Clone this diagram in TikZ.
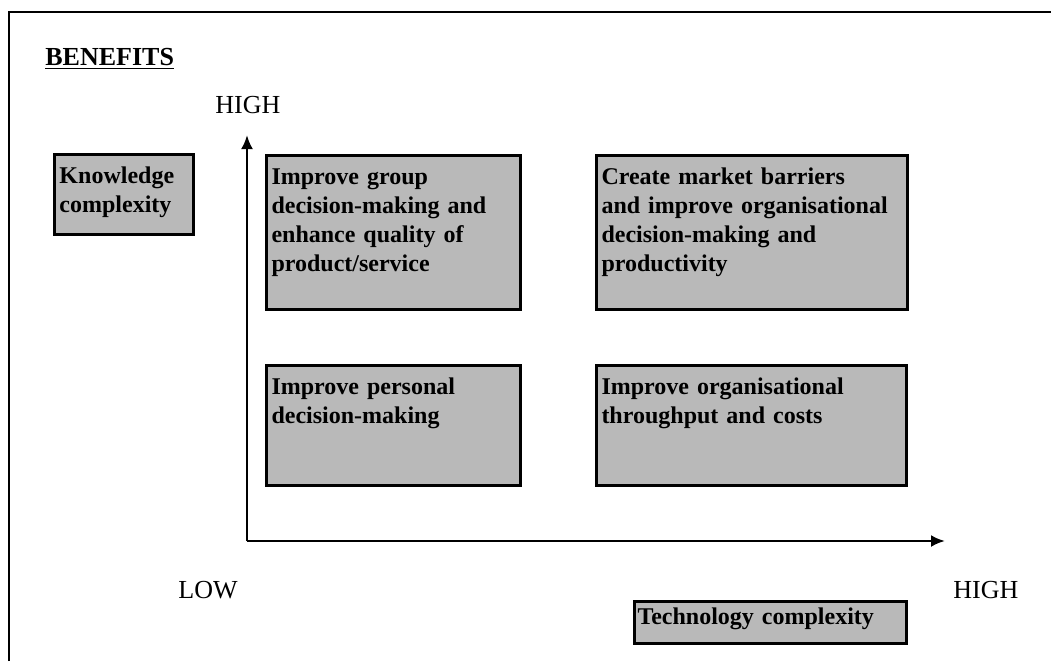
\documentclass[tikz,border=0pt]{standalone}
\usepackage{fontspec}
\setmainfont{Liberation Serif}
\usetikzlibrary{arrows.meta}

\tikzset{
  cell/.style={draw, line width=1.5pt, fill=gray!55, anchor=north west, align=left,
    inner xsep=2.5pt, inner ysep=6.5pt, text height=8pt,
    font=\bfseries\fontsize{12}{14.5}\selectfont},
  scalelabel/.style={anchor=base west, inner sep=0pt, font=\fontsize{13}{15}\selectfont},
  axis/.style={line width=1.3pt, -{Latex[length=7pt,width=6pt]}},
}

\begin{document}
\begin{tikzpicture}[x=0.5pt, y=-0.5pt]
  \useasboundingbox (0,0) rectangle (1051,661);
  % frame
  \draw[line width=1pt] (9,661) -- (9,12) -- (1051,12);

  \node[scalelabel, font=\bfseries\fontsize{13}{15}\selectfont] (benefits) at (45,65) {\underline{BENEFITS}};
  \node[scalelabel] (khigh) at (215,113) {HIGH};
  \node[scalelabel] (tlow) at (178,598) {LOW};
  \node[scalelabel] (thigh) at (953,598) {HIGH};

  % axes
  \coordinate (origin) at (247,541);
  \coordinate (ytip) at (247,135);
  \coordinate (xtip) at (945,541);
  \draw[axis] (origin) -- (ytip);
  \draw[axis] (origin) -- (xtip);

  % quadrants
  \node[cell, text width=64.5pt, text depth=19pt] (know) at (53,153) {Knowledge\\complexity};
  \node[cell, text width=122pt, text depth=56pt] (group) at (265,154)
    {Improve group\\decision-making and\\enhance quality of\\product/service};
  \node[cell, text width=150.5pt, text depth=56pt] (market) at (595,154)
    {Create market barriers\\and improve organisational\\decision-making and\\productivity};
  \node[cell, text width=122pt, text depth=39pt] (personal) at (265,364)
    {Improve personal\\decision-making};
  \node[cell, text width=150pt, text depth=39pt] (through) at (595,364)
    {Improve organisational\\throughput and costs};
  \node[cell, inner xsep=1.5pt, inner ysep=3.5pt, text width=133pt, text depth=6pt] (tech) at (633,600)
    {Technology complexity};
\end{tikzpicture}
\end{document}
